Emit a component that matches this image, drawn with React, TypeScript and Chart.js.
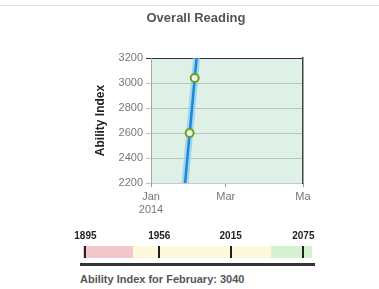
import React, { useEffect, useRef } from "react";
import { Chart, registerables } from "chart.js";

Chart.register(...registerables);

const FONT = 'Arial, "Liberation Sans", sans-serif';

const TITLE = "Overall Reading";
const Y_TITLE = "Ability Index";
const yMin = 2200;
const yMax = 3200;
const yStep = 200;
// x values are days since 1 Jan 2014
const xMin = 0;
const xMax = 120;
const xTickValues = [0, 59, 120];
const xTickLabels: (string | string[])[] = [["Jan", "2014"], "Mar", "Ma"];
const pointDays = [30.5, 34.5];
const pointScores = [2600, 3040];
const trendDays = [26.9, 36];
const trendScores = [2200, 3200];

const scaleMin = 1893;
const scaleMax = 2083;
const scaleTicks = [1895, 1956, 2015, 2075];
const bandNames = ["low", "typical", "high"];
const bandStarts = [1893, 1934, 2048];
const bandEnds = [1934, 2048, 2082];
const bandColors = ["#f2c6ca", "#fcfadb", "#d6f3d1"];
const monthLabel = "February";
const monthScore = 3040;

const plotBg = {
  id: "plotBg",
  beforeDraw(chart: any) {
    const { ctx, chartArea: a } = chart;
    ctx.save();
    ctx.fillStyle = "#dff1e7";
    ctx.fillRect(a.left, a.top, a.right - a.left, a.bottom - a.top);
    ctx.restore();
  },
};

export default function App() {
  const mainRef = useRef<HTMLCanvasElement>(null);
  const scaleRef = useRef<HTMLCanvasElement>(null);

  useEffect(() => {
    Chart.defaults.font.family = FONT;
    const trend = trendDays.map((x, i) => ({ x, y: trendScores[i] }));
    const main = new Chart(mainRef.current as HTMLCanvasElement, {
      type: "scatter",
      data: {
        datasets: [
          {
            label: "scores",
            data: pointDays.map((x, i) => ({ x, y: pointScores[i] })),
            pointRadius: 4,
            pointBorderWidth: 2,
            borderColor: "#6e9f24",
            backgroundColor: "#eef7e4",
            showLine: false,
          },
          {
            label: "trend",
            data: trend,
            showLine: true,
            borderColor: "#1f86d4",
            borderWidth: 2.5,
            pointRadius: 0,
          },
          {
            label: "range",
            data: trend,
            showLine: true,
            borderColor: "rgba(140,205,240,0.75)",
            borderWidth: 7,
            pointRadius: 0,
          },
        ],
      },
      options: {
        responsive: false,
        animation: false,
        layout: { padding: { left: 89, right: 76, top: 0, bottom: 0 } },
        plugins: {
          legend: { display: false },
          tooltip: { enabled: false },
          title: {
            display: true,
            text: TITLE,
            color: "#555",
            font: { family: FONT, size: 13, weight: "bold" },
            padding: { top: 11, bottom: 31.4 },
          },
        },
        scales: {
          x: {
            type: "linear",
            min: xMin,
            max: xMax,
            afterBuildTicks: (s: any) => {
              s.ticks = xTickValues.map((v) => ({ value: v }));
            },
            ticks: {
              callback: (v: any) => xTickLabels[xTickValues.indexOf(Number(v))],
              color: "#777",
              font: { family: FONT, size: 11 },
              padding: 3,
              maxRotation: 0,
              autoSkip: false,
            },
            grid: { drawOnChartArea: false, tickLength: 4, color: "#999" },
            border: { color: "#c8c8c8" },
            afterFit: (s: any) => {
              s.height = 39;
            },
          },
          y: {
            min: yMin,
            max: yMax,
            ticks: {
              stepSize: yStep,
              color: "#777",
              font: { family: FONT, size: 11 },
              padding: 3,
              callback: (v: any) => String(v),
            },
            grid: {
              color: (ctx: any) => (ctx.tick && ctx.tick.value === yMax ? "#333" : "#b3c8bb"),
              tickLength: 5,
            },
            border: { color: "#9ab0a3" },
            title: {
              display: true,
              text: Y_TITLE,
              color: "#222",
              font: { family: FONT, size: 12, weight: "bold" },
              padding: { top: 4, bottom: 0 },
            },
            afterFit: (s: any) => {
              s.width = 62;
            },
          },
          y2: {
            position: "right",
            display: true,
            min: yMin,
            max: yMax,
            ticks: { display: false },
            grid: { drawOnChartArea: false, drawTicks: false },
            border: { color: "#444", width: 1.5 },
            afterFit: (s: any) => {
              s.width = 0;
            },
          },
        },
      } as any,
      plugins: [plotBg],
    });

    const scale = new Chart(scaleRef.current as HTMLCanvasElement, {
      type: "bar",
      data: {
        labels: ["scale"],
        datasets: bandNames.map((n, i) => ({
          label: n,
          data: [[bandStarts[i], bandEnds[i]]],
          backgroundColor: bandColors[i],
          borderWidth: 0,
          barPercentage: 1,
          categoryPercentage: 1,
          grouped: false,
        })) as any,
      },
      options: {
        indexAxis: "y",
        responsive: false,
        animation: false,
        layout: { padding: { left: 83, right: 66, top: 0, bottom: 0 } },
        plugins: { legend: { display: false }, tooltip: { enabled: false } },
        scales: {
          x: {
            type: "linear",
            position: "top",
            min: scaleMin,
            max: scaleMax,
            afterBuildTicks: (s: any) => {
              s.ticks = scaleTicks.map((v) => ({ value: v }));
            },
            ticks: {
              color: "#222",
              font: { family: FONT, size: 10, weight: "bold" },
              padding: 4,
              autoSkip: false,
              maxRotation: 0,
              z: 1,
              callback: (v: any) => String(v),
            },
            grid: { color: "#222", lineWidth: 2, drawTicks: false, z: 1 },
            border: { display: false },
            afterFit: (s: any) => {
              s.height = 18;
            },
          },
          y: { display: false },
        },
      } as any,
    });

    return () => {
      main.destroy();
      scale.destroy();
    };
  }, []);

  return (
    <div
      style={{
        position: "fixed",
        left: 0,
        top: 0,
        width: 379,
        height: 289,
        background: "#fff",
        fontFamily: FONT,
      }}
    >
      <div style={{ position: "absolute", left: 0, top: 5, width: 379, height: 1, background: "#e2e2e2" }} />
      <canvas ref={mainRef} width={379} height={222} style={{ position: "absolute", left: 0, top: 0 }} />
      <canvas ref={scaleRef} width={379} height={30} style={{ position: "absolute", left: 0, top: 228 }} />
      <div style={{ position: "absolute", left: 80, top: 263, width: 235, height: 3, background: "#333" }} />
      <div
        style={{
          position: "absolute",
          left: 80,
          top: 273,
          fontSize: 11,
          lineHeight: "13px",
          fontWeight: "bold",
          color: "#555",
          whiteSpace: "nowrap",
        }}
      >
        {`Ability Index for ${monthLabel}: ${monthScore}`}
      </div>
    </div>
  );
}
